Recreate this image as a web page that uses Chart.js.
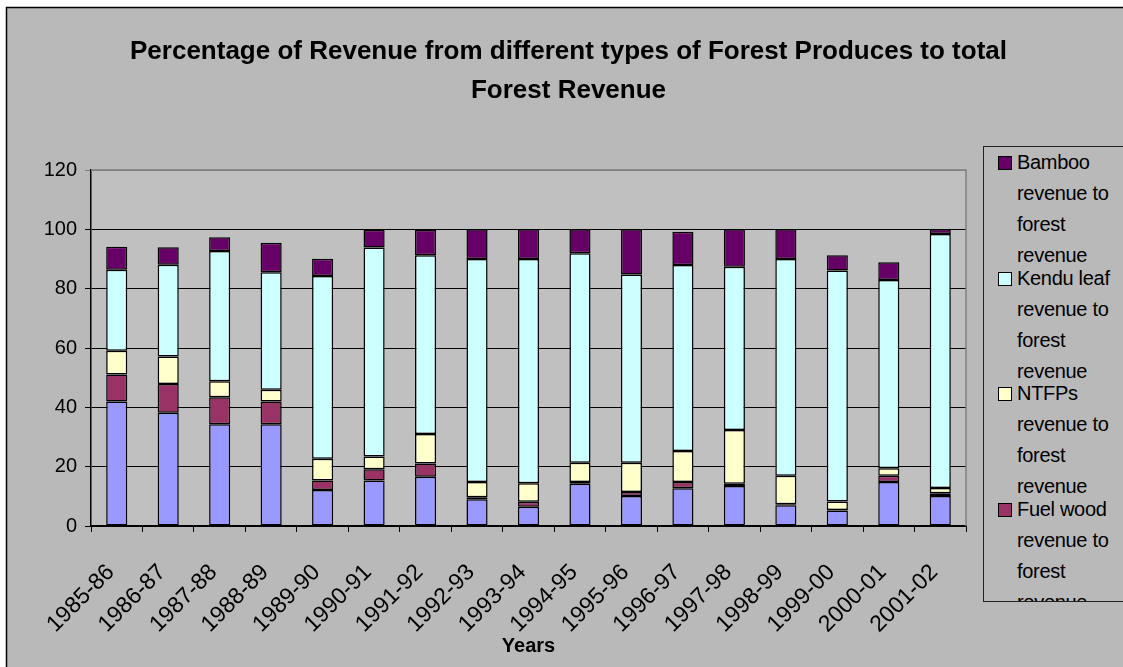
<!DOCTYPE html>
<html>
<head>
<meta charset="utf-8">
<script src="https://cdn.jsdelivr.net/npm/chart.js@4.4.0/dist/chart.umd.min.js"></script>
<style>
  body { margin: 0; background: #fff; }
  #wrap { position: relative; width: 1123px; height: 667px; overflow: hidden; }
  #legend {
    position: absolute; left: 983px; top: 146px; width: 200px; height: 454px;
    border: 1px solid #222; background: #b9b9b9; overflow: hidden;
    font-family: Arial, "Liberation Sans", sans-serif; font-size: 20px; color: #000;
  }
  .item { position: relative; height: 115.5px; }
  .item .box { position: absolute; left: 14px; top: 9px; width: 12px; height: 12px; border: 1px solid #000; }
  .item .txt { position: absolute; left: 33px; top: 0; width: 98px; line-height: 31px; letter-spacing: -0.3px; }
</style>
</head>
<body>
<div id="wrap">
  <canvas id="myChart" width="1123" height="667"></canvas>
  <div id="legend"></div>
</div>
<script>
var years = ["1985-86", "1986-87", "1987-88", "1988-89", "1989-90", "1990-91", "1991-92", "1992-93",
  "1993-94", "1994-95", "1995-96", "1996-97", "1997-98", "1998-99", "1999-00", "2000-01", "2001-02"];

var timber = [42.0, 38.2, 34.3, 34.3, 12.1, 15.3, 16.6, 9.0, 6.5, 14.2, 10.1, 12.7, 13.5, 7.0, 5.2, 14.8, 10.1];
var fuelWood = [9.1, 9.7, 9.1, 7.7, 3.2, 3.8, 4.5, 0.7, 1.7, 0.6, 1.4, 2.1, 0.7, 0.3, 0.2, 2.1, 0.9];
var ntfps = [8.0, 9.2, 5.4, 3.9, 7.4, 4.3, 9.9, 5.1, 6.2, 6.5, 9.8, 10.5, 18.2, 9.6, 2.9, 2.6, 1.8];
var kenduLeaf = [27.3, 31.0, 43.9, 39.6, 61.6, 70.5, 60.3, 75.2, 75.6, 70.6, 63.5, 62.7, 55.0, 73.1, 77.8, 63.4, 85.6];
var bamboo = [7.7, 5.9, 4.6, 10.0, 5.8, 6.0, 8.6, 10.0, 10.0, 8.1, 15.2, 11.2, 12.6, 10.0, 5.2, 6.0, 1.6];

var yTicks = [0, 20, 40, 60, 80, 100, 120];

Chart.defaults.font.family = 'Arial, "Liberation Sans", sans-serif';
Chart.defaults.color = "#000";

// grey chart area, white margin, black frame, plot area fill
var backdrop = {
  id: "backdrop",
  beforeDraw: function (chart) {
    var c = chart.ctx;
    var a = chart.chartArea;
    c.save();
    c.fillStyle = "#fff";
    c.fillRect(0, 0, chart.width, chart.height);
    c.fillStyle = "#b9b9b9";
    c.fillRect(6, 7, chart.width, chart.height);
    c.strokeStyle = "#000";
    c.lineWidth = 1.5;
    c.beginPath();
    c.moveTo(6.5, chart.height);
    c.lineTo(6.5, 7.5);
    c.lineTo(chart.width, 7.5);
    c.stroke();
    c.fillStyle = "#c0c0c0";
    c.fillRect(a.left, a.top, a.right - a.left, a.bottom - a.top);
    c.restore();
  },
  afterDraw: function (chart) {
    var c = chart.ctx;
    var a = chart.chartArea;
    c.save();
    c.strokeStyle = "#808080";
    c.lineWidth = 1.5;
    c.beginPath();
    c.moveTo(a.left, a.top);
    c.lineTo(a.right, a.top);
    c.lineTo(a.right, a.bottom);
    c.stroke();
    c.restore();
  }
};

var ctx = document.getElementById("myChart");

var data = {
  labels: years,
  datasets: [
    { label: "Timber revenue to forest revenue", data: timber, backgroundColor: "#9999ff" },
    { label: "Fuel wood revenue to forest revenue", data: fuelWood, backgroundColor: "#993366" },
    { label: "NTFPs revenue to forest revenue", data: ntfps, backgroundColor: "#ffffcc" },
    { label: "Kendu leaf revenue to forest revenue", data: kenduLeaf, backgroundColor: "#ccffff" },
    { label: "Bamboo revenue to forest revenue", data: bamboo, backgroundColor: "#660066" }
  ]
};
data.datasets.forEach(function (ds) {
  ds.borderColor = "#000";
  ds.borderWidth = 1.5;
  ds.borderSkipped = false;
  ds.categoryPercentage = 1;
  ds.barPercentage = 0.41;
});

var myChart = new Chart(ctx, {
  type: "bar",
  data: data,
  plugins: [backdrop],
  options: {
    responsive: false,
    animation: false,
    layout: { padding: { left: 14, right: 0, top: 0, bottom: 0 } },
    plugins: {
      legend: { display: false },
      tooltip: { enabled: false },
      title: {
        display: true,
        text: ["Percentage of Revenue from different types of Forest Produces to total", "Forest Revenue"],
        color: "#000",
        font: { size: 26, weight: "bold", lineHeight: 1.5 },
        padding: { top: 32.5, bottom: 59.5 }
      }
    },
    scales: {
      x: {
        stacked: true,
        grid: { offset: true, drawOnChartArea: false, drawTicks: true, tickLength: 6, color: "#000" },
        border: { color: "#000", width: 1.5 },
        ticks: { autoSkip: false, minRotation: 45, maxRotation: 45, font: { size: 23 }, padding: 27, labelOffset: -6, color: "#000" },
        title: { display: true, text: "Years", color: "#000", font: { size: 20, weight: "bold" }, padding: { top: 0, bottom: 9 } },
        afterFit: function (s) { s.height = 141; }
      },
      y: {
        stacked: true,
        min: 0,
        max: 120,
        afterBuildTicks: function (s) { s.ticks = yTicks.map(function (v) { return { value: v }; }); },
        ticks: { font: { size: 20 }, padding: 8, color: "#000" },
        grid: {
          tickLength: 6,
          color: function (c) { return c.tick && c.tick.value === 120 ? "#808080" : "#000"; }
        },
        border: { color: "#000", width: 1.5 },
        afterFit: function (s) { s.width = 77; }
      },
      gap: {
        position: "right",
        display: true,
        grid: { display: false },
        border: { display: false },
        ticks: { display: false },
        afterFit: function (s) { s.width = 157; }
      }
    }
  }
});

// legend, top series first, clipped like the original
var legendEl = document.getElementById("legend");
data.datasets.slice().reverse().forEach(function (ds) {
  var item = document.createElement("div");
  item.className = "item";
  item.innerHTML = '<span class="box" style="background:' + ds.backgroundColor + '"></span><span class="txt">' + ds.label + "</span>";
  legendEl.appendChild(item);
});
</script>
</body>
</html>
